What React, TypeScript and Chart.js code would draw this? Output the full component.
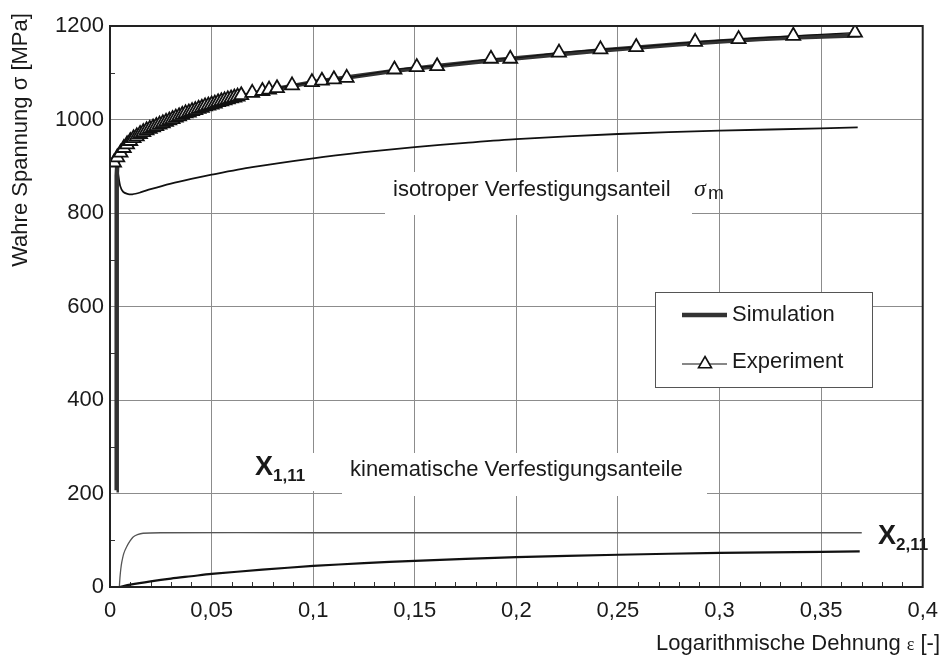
import React, { useEffect, useRef } from 'react';
import { Chart, registerables } from 'chart.js';
Chart.register(...registerables);

const X_TICKS = [0, 0.05, 0.1, 0.15, 0.2, 0.25, 0.3, 0.35, 0.4];
const Y_TICKS = [0, 200, 400, 600, 800, 1000, 1200];

// Simulation (thick)
const SIM_X = [0.0032, 0.0033, 0.0036, 0.0045, 0.006, 0.008, 0.012, 0.02, 0.03, 0.04, 0.05, 0.06, 0.07, 0.08, 0.09, 0.1, 0.12, 0.14, 0.16, 0.18, 0.2, 0.22, 0.24, 0.26, 0.28, 0.3, 0.32, 0.34, 0.369];
const SIM_Y = [207, 880, 905, 918, 932, 946, 962, 982, 1000, 1016, 1031, 1044, 1055, 1064, 1072, 1080, 1092, 1104, 1114, 1123, 1131, 1139, 1147, 1154, 1161, 1167, 1172, 1176, 1180];

// Experiment (triangles)
const EXP_X = [0.002, 0.0036, 0.0052, 0.0068, 0.0084, 0.01, 0.0116, 0.0132, 0.0148, 0.0164, 0.018, 0.0196, 0.0212, 0.0228, 0.0244, 0.026, 0.0276, 0.0292, 0.0308, 0.0324, 0.034, 0.0356, 0.0372, 0.0388, 0.0404, 0.042, 0.0436, 0.0452, 0.0468, 0.0484, 0.05, 0.0516, 0.0532, 0.0548, 0.0564, 0.058, 0.0596, 0.0612, 0.0628, 0.0646,
  0.07, 0.075, 0.0783, 0.0822, 0.0896, 0.0994, 0.1043, 0.1102, 0.1165, 0.14, 0.151, 0.161, 0.1875, 0.197, 0.221, 0.2414, 0.259, 0.288, 0.3094, 0.3363, 0.3667];
const EXP_Y = [908, 919, 929, 939, 947, 954, 960, 964, 969, 973, 977, 980, 983, 986, 989, 992, 995, 998, 1001, 1004, 1007, 1010, 1013, 1015, 1018, 1020, 1023, 1025, 1028, 1030, 1032, 1034, 1037, 1039, 1041, 1043, 1045, 1047, 1049, 1052,
  1057, 1061, 1064, 1067, 1073, 1080, 1083, 1086, 1089, 1107, 1112, 1114, 1130, 1130, 1143, 1150, 1155, 1166, 1172, 1179, 1186];

// isotroper Verfestigungsanteil sigma_m
const ISO_X = [0.0034, 0.004, 0.005, 0.0065, 0.0085, 0.011, 0.015, 0.02, 0.03, 0.04, 0.05, 0.07, 0.1, 0.125, 0.15, 0.175, 0.2, 0.25, 0.3, 0.35, 0.368];
const ISO_Y = [905, 885, 858, 845, 841, 840, 844, 851, 863, 873, 882, 898, 917, 930, 941, 950, 958, 969, 976, 981, 983];

// kinematische Anteile
const KIN_FAST_X = [0.0046, 0.0049, 0.0053, 0.0058, 0.0068, 0.0082, 0.0098, 0.0114, 0.0135, 0.0163, 0.025, 0.1, 0.2, 0.3, 0.37];
const KIN_FAST_Y = [0, 20, 38, 53, 72, 86, 98, 107, 112, 115, 116, 116, 116, 116, 116];
const KIN_SLOW_X = [0.0045, 0.01, 0.02, 0.03, 0.04, 0.05, 0.075, 0.1, 0.125, 0.15, 0.2, 0.25, 0.3, 0.35, 0.369];
const KIN_SLOW_Y = [0, 5, 12, 18, 23, 28, 37, 45, 51, 56, 64, 69, 73, 75, 76];

const FONT = '"Liberation Sans", Arial, sans-serif';
const TXT = '#1a1a1a';

const pts = (xs: number[], ys: number[]) => xs.map((x, i) => ({ x, y: ys[i] }));
const fmt = (v: number) => String(Number(v.toFixed(2))).replace('.', ',');

const overlayPlugin = {
  id: 'overlay',
  beforeDatasetsDraw(chart: any) {
    const { ctx, scales } = chart;
    const X = scales.x, Y = scales.y;
    const a = chart.chartArea;
    ctx.save();
    // minor ticks
    ctx.strokeStyle = '#333';
    ctx.lineWidth = 1;
    for (let i = 1; i < 40; i++) {
      if (i % 5 === 0) continue;
      const px = Math.round(X.getPixelForValue(i / 100)) + 0.5;
      ctx.beginPath(); ctx.moveTo(px, a.bottom); ctx.lineTo(px, a.bottom - 5); ctx.stroke();
    }
    for (let v = 100; v < 1200; v += 200) {
      const py = Math.round(Y.getPixelForValue(v)) + 0.5;
      ctx.beginPath(); ctx.moveTo(a.left, py); ctx.lineTo(a.left + 5, py); ctx.stroke();
    }
    // white label boxes
    ctx.fillStyle = '#fff';
    ctx.fillRect(385, 172, 307, 43);
    ctx.fillRect(238, 453, 92, 38);
    ctx.fillRect(342, 453, 365, 43);
    // labels
    ctx.fillStyle = TXT;
    ctx.textBaseline = 'alphabetic';
    ctx.textAlign = 'left';
    ctx.font = `22px ${FONT}`;
    ctx.fillText('isotroper Verfestigungsanteil', 393, 196);
    ctx.font = `italic 24px "Liberation Serif", serif`;
    ctx.fillText('σ', 694, 196);
    ctx.font = `19px ${FONT}`;
    ctx.fillText('m', 708, 199);
    ctx.font = `22px ${FONT}`;
    ctx.fillText('kinematische Verfestigungsanteile', 350, 476);
    ctx.font = `bold 27px ${FONT}`;
    ctx.fillText('X', 255, 475);
    ctx.font = `bold 17px ${FONT}`;
    ctx.fillText('1,11', 273, 481);
    ctx.font = `bold 27px ${FONT}`;
    ctx.fillText('X', 878, 544);
    ctx.font = `bold 17px ${FONT}`;
    ctx.fillText('2,11', 896, 550);
    ctx.restore();
  },
  afterDraw(chart: any) {
    const { ctx } = chart;
    const a = chart.chartArea;
    ctx.save();
    // frame
    ctx.strokeStyle = '#222';
    ctx.lineWidth = 2;
    ctx.strokeRect(a.left, a.top, a.right - a.left, a.bottom - a.top);
    // legend
    ctx.fillStyle = '#fff';
    ctx.fillRect(655, 292, 217, 95);
    ctx.strokeStyle = '#555';
    ctx.lineWidth = 1;
    ctx.strokeRect(655.5, 292.5, 217, 95);
    ctx.strokeStyle = '#333';
    ctx.lineWidth = 4.5;
    ctx.beginPath(); ctx.moveTo(682, 315); ctx.lineTo(727, 315); ctx.stroke();
    ctx.strokeStyle = '#111';
    ctx.lineWidth = 1.2;
    ctx.beginPath(); ctx.moveTo(682, 364); ctx.lineTo(727, 364); ctx.stroke();
    const r = 7.5, cx = 705, cy = 364;
    ctx.beginPath();
    ctx.moveTo(cx, cy - r);
    ctx.lineTo(cx + r * Math.sin(Math.PI * 2 / 3), cy - r * Math.cos(Math.PI * 2 / 3));
    ctx.lineTo(cx - r * Math.sin(Math.PI * 2 / 3), cy - r * Math.cos(Math.PI * 2 / 3));
    ctx.closePath();
    ctx.fillStyle = '#fff'; ctx.fill();
    ctx.lineWidth = 1.6; ctx.stroke();
    ctx.fillStyle = TXT;
    ctx.font = `22px ${FONT}`;
    ctx.textAlign = 'left';
    ctx.textBaseline = 'alphabetic';
    ctx.fillText('Simulation', 732, 321);
    ctx.fillText('Experiment', 732, 368);
    // axis titles
    ctx.save();
    ctx.translate(21, 140);
    ctx.rotate(-Math.PI / 2);
    ctx.textAlign = 'center';
    ctx.textBaseline = 'middle';
    ctx.font = `22px ${FONT}`;
    ctx.fillText('Wahre Spannung σ [MPa]', 0, 0);
    ctx.restore();
    const p1 = 'Logarithmische Dehnung ', p2 = 'ε', p3 = ' [-]';
    ctx.font = `22px ${FONT}`;
    const w1 = ctx.measureText(p1).width, w3 = ctx.measureText(p3).width;
    ctx.font = `18px "Liberation Serif", serif`;
    const w2 = ctx.measureText(p2).width;
    let sx = 940 - (w1 + w2 + w3);
    ctx.font = `22px ${FONT}`;
    ctx.fillText(p1, sx, 650); sx += w1;
    ctx.font = `18px "Liberation Serif", serif`;
    ctx.fillText(p2, sx, 650); sx += w2;
    ctx.font = `22px ${FONT}`;
    ctx.fillText(p3, sx, 650);
    ctx.restore();
  },
};

export default function App() {
  const ref = useRef<HTMLCanvasElement | null>(null);
  useEffect(() => {
    if (!ref.current) return;
    const chart = new Chart(ref.current, {
      type: 'line',
      data: {
        datasets: [
          { label: 'Experiment', data: pts(EXP_X, EXP_Y), order: 0, borderColor: '#111', borderWidth: 1.2, pointStyle: 'triangle', pointRadius: 8, pointBackgroundColor: '#fff', pointBorderColor: '#111', pointBorderWidth: 1.8, tension: 0 },
          { label: 'Simulation', data: pts(SIM_X, SIM_Y), order: 1, borderColor: '#333', borderWidth: 4.5, pointRadius: 0, tension: 0 },
          { label: 'sigma_m', data: pts(ISO_X, ISO_Y), order: 2, borderColor: '#111', borderWidth: 1.8, pointRadius: 0, tension: 0.3 },
          { label: 'X1', data: pts(KIN_FAST_X, KIN_FAST_Y), order: 3, borderColor: '#555', borderWidth: 1.3, pointRadius: 0, tension: 0.3 },
          { label: 'X2', data: pts(KIN_SLOW_X, KIN_SLOW_Y), order: 4, borderColor: '#111', borderWidth: 2.2, pointRadius: 0, tension: 0.3 },
        ],
      },
      options: {
        responsive: false,
        animation: false,
        devicePixelRatio: 1,
        layout: { padding: { top: 26, right: 22, bottom: 0, left: 0 } },
        plugins: { legend: { display: false }, tooltip: { enabled: false } },
        scales: {
          x: {
            type: 'linear', min: 0, max: 0.4,
            afterBuildTicks: (s: any) => { s.ticks = X_TICKS.map(v => ({ value: v })); },
            afterFit: (s: any) => { s.height = 77; },
            ticks: { callback: (v: any) => fmt(Number(v)), font: { family: FONT, size: 22 }, color: TXT, padding: 11, maxRotation: 0, autoSkip: false },
            grid: { color: '#8c8c8c', lineWidth: 1, drawTicks: false },
            border: { display: false },
          },
          y: {
            type: 'linear', min: 0, max: 1200,
            afterBuildTicks: (s: any) => { s.ticks = Y_TICKS.map(v => ({ value: v })); },
            afterFit: (s: any) => { s.width = 110; },
            ticks: { callback: (v: any) => String(v), font: { family: FONT, size: 22 }, color: TXT, padding: 6 },
            grid: { color: '#8c8c8c', lineWidth: 1, drawTicks: false },
            border: { display: false },
          },
        },
      },
      plugins: [overlayPlugin],
    } as any);
    return () => chart.destroy();
  }, []);
  return (
    <div style={{ position: 'absolute', left: 0, top: 0, width: 949, height: 664, background: '#fff' }}>
      <canvas ref={ref} width={949} height={664} style={{ display: 'block' }} />
    </div>
  );
}
